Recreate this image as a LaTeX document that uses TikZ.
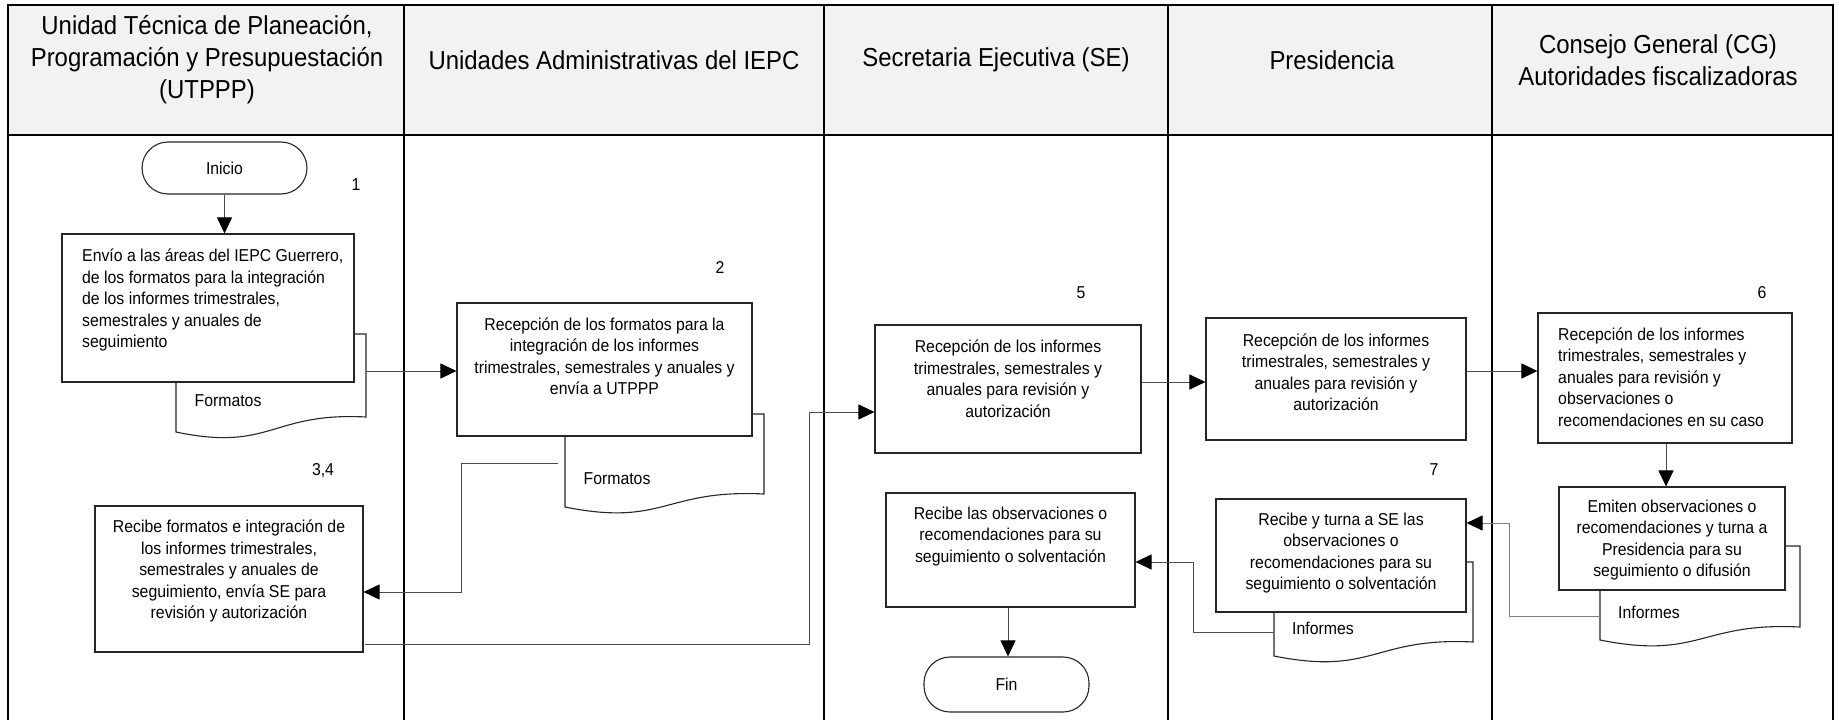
\documentclass[tikz,border=0pt]{standalone}
\usepackage{fontspec}
\setmainfont{Liberation Sans}[FakeStretch=0.92]
\usetikzlibrary{arrows.meta}
\newcommand\docshape[5]{\draw[docst] (#1,#4) .. controls ({#1+0.5*(#2-#1)},{#4+20}) and ({#1+0.5*(#2-#1)},{#5-5}) .. (#2,#5) -- (#2,#3) -- (#1,#3) -- cycle;}
\begin{document}
\begin{tikzpicture}[x=1pt,y=-1pt,
  lane/.style={line width=1.3pt,black},
  box/.style={draw=black!85,line width=1.1pt,fill=white,inner sep=0pt},
  term/.style={box,rounded corners=26pt},
  txt/.style={inner sep=0pt,font=\fontsize{17.2}{21.5}\selectfont},
  hdr/.style={inner sep=0pt,font=\fontsize{26}{32}\selectfont,align=center},
  arr/.style={draw=black!70,line width=0.9pt,-{Triangle[length=16pt,width=15pt,black]}},
  docst/.style={draw=black!85,line width=1.1pt,fill=white}]
\useasboundingbox (0,0) rectangle (1839,720);
% header
\fill[black!5] (8,5) rectangle (1833,135);
\draw[lane] (8,720) -- (8,5) -- (1833,5) -- (1833,720);
\draw[lane] (8,135) -- (1833,135);
\foreach \xx in {404,824,1168,1492} \draw[lane] (\xx,5) -- (\xx,720);
\node[hdr] (h1) at (207,60) {Unidad Técnica de Planeación,\\Programación y Presupuestación\\(UTPPP)};
\node[hdr] (h2) at (614,60) {Unidades Administrativas del IEPC};
\node[hdr] (h3) at (996,60) {Secretaria Ejecutiva (SE)};
\node[hdr] (h4) at (1332,60) {Presidencia};
\node[hdr] (h5) at (1658,60) {Consejo General (CG)\\Autoridades fiscalizadoras};
% documents
\docshape{176}{366}{334}{432}{417}
\docshape{565}{764}{414}{507}{494}
\docshape{1274}{1473}{562}{656}{642}
\docshape{1600}{1800}{546}{640}{627}
\node[txt] (f1) at (228,401) {Formatos};
\node[txt] (f2) at (617,479) {Formatos};
\node[txt] (f3) at (1323,628) {Informes};
\node[txt] (f4) at (1649,612) {Informes};
% terminals
\node[term,minimum width=165pt,minimum height=52pt] (ini) at (224.5,168) {};
\node[txt] (tini) at (224.5,168) {Inicio};
\node[term,minimum width=165pt,minimum height=55pt] (fin) at (1006.5,684.5) {};
\node[txt] (tfin) at (1006.5,684.5) {Fin};
% boxes
\node[box,minimum width=292pt,minimum height=148pt] (b1) at (208,308) {};
\node[box,minimum width=295pt,minimum height=133pt] (b2) at (604.5,369.5) {};
\node[box,minimum width=268pt,minimum height=146pt] (b3) at (229,579) {};
\node[box,minimum width=266pt,minimum height=128pt] (b5) at (1008,389) {};
\node[box,minimum width=249pt,minimum height=114pt] (b8) at (1010.5,550) {};
\node[box,minimum width=260pt,minimum height=122pt] (bp1) at (1336,379) {};
\node[box,minimum width=250pt,minimum height=113pt] (bp2) at (1341,555.5) {};
\node[box,minimum width=254pt,minimum height=130pt] (bc1) at (1665,378) {};
\node[box,minimum width=226pt,minimum height=103pt] (bc2) at (1672,538.5) {};
% box texts
\node[txt,align=left,anchor=west] (t1) at (82,300) {Envío a las áreas del IEPC Guerrero,\\de los formatos para la integración\\de los informes trimestrales,\\semestrales y anuales de\\seguimiento};
\node[txt,align=center] (t2) at (604.5,356) {Recepción de los formatos para la\\integración de los informes\\trimestrales, semestrales y anuales y\\envía a UTPPP};
\node[txt,align=center] (t3) at (229,571) {Recibe formatos e integración de\\los informes trimestrales,\\semestrales y anuales de\\seguimiento, envía SE para\\revisión y autorización};
\node[txt,align=center] (t5) at (1008,378.5) {Recepción de los informes\\trimestrales, semestrales y\\anuales para revisión y\\autorización};
\node[txt,align=center] (t8) at (1010.5,536.5) {Recibe las observaciones o\\recomendaciones para su\\seguimiento o solventación};
\node[txt,align=center] (tp1) at (1336,372) {Recepción de los informes\\trimestrales, semestrales y\\anuales para revisión y\\autorización};
\node[txt,align=center] (tp2) at (1341,553) {Recibe y turna a SE las\\observaciones o\\recomendaciones para su\\seguimiento o solventación};
\node[txt,align=left,anchor=west] (tc1) at (1558,377) {Recepción de los informes\\trimestrales, semestrales y\\anuales para revisión y\\observaciones o\\recomendaciones en su caso};
\node[txt,align=center] (tc2) at (1672,540) {Emiten observaciones o\\recomendaciones y turna a\\Presidencia para su\\seguimiento o difusión};
% step numbers
\node[txt] (n1) at (356,185) {1};
\node[txt] (n2) at (720,267) {2};
\node[txt] (n34) at (323,471) {3,4};
\node[txt] (n5) at (1081,293) {5};
\node[txt] (n6) at (1762,293) {6};
\node[txt] (n7) at (1434,470) {7};
% connector coordinates
\coordinate (d1r) at (366,371);
\coordinate (d2l) at (558,463);
\coordinate (b3o) at (365,644);
\coordinate (dpl) at (1274,632);
\coordinate (dcl) at (1600,616);
% connectors
\draw[arr] (ini.south) -- (ini.south |- b1.north);
\draw[arr] (d1r) -- (d1r -| b2.west);
\draw[arr] (d2l) -- (461,463) -- (461,592) -- (b3.east |- 0,592);
\draw[arr] (b3o) -- (809,644) -- (809,412) -- (b5.west |- 0,412);
\draw[arr] (b5.east |- 0,382) -- (bp1.west |- 0,382);
\draw[arr] (bp1.east |- 0,371) -- (bc1.west |- 0,371);
\draw[arr] (bc1.south -| 1666,0) -- (bc2.north -| 1666,0);
\draw[arr,draw=black!50] (dcl) -- (1509,616) -- (1509,523) -- (bp2.east |- 0,523);
\draw[arr] (dpl) -- (1193,632) -- (1193,562) -- (b8.east |- 0,562);
\draw[arr] (b8.south -| 1008,0) -- (fin.north -| 1008,0);
\end{tikzpicture}
\end{document}
